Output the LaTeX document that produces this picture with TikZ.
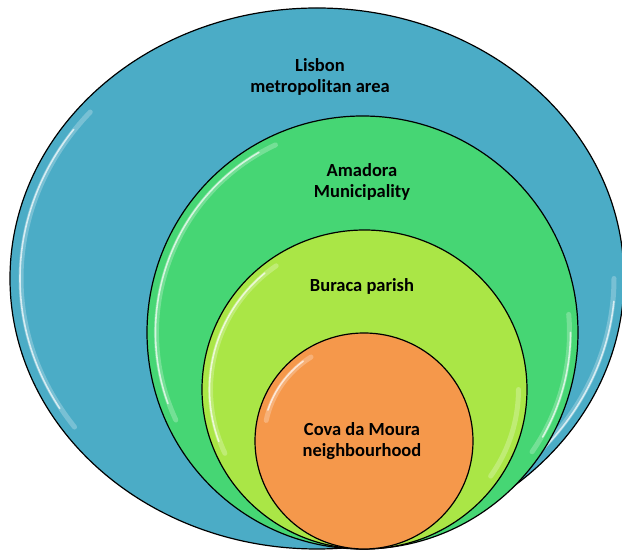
\documentclass[tikz,border=0pt]{standalone}
\usepackage{fontspec}
\setmainfont{Carlito}
\usetikzlibrary{shapes.geometric}
\definecolor{cblue}{RGB}{75,172,198}
\definecolor{cgreen}{RGB}{70,214,116}
\definecolor{clime}{RGB}{170,230,70}
\definecolor{corange}{RGB}{245,152,75}
\begin{document}
\begin{tikzpicture}[x=1pt,y=1pt,
  ring/.style={ellipse, draw=black, line width=1.2pt, inner sep=0pt},
  lbl/.style={font=\fontsize{18.5}{20.5}\selectfont\bfseries, align=center, text=black},
  glow/.style={white, line width=5pt, opacity=0.25, line cap=round},
  shine/.style={white, line width=1.6pt, opacity=0.7, line cap=round}]
\useasboundingbox (0,0) rectangle (622,551);
% rings
\node[ring, fill=cblue, minimum width=614pt, minimum height=541pt] (lisbon) at (317,272.5) {};
\draw[glow] (lisbon.center) ++(140:296 and 259) arc[start angle=140, end angle=215, x radius=296, y radius=259];
\draw[shine] (lisbon.center) ++(145:297 and 260) arc[start angle=145, end angle=210, x radius=297, y radius=260];
\draw[glow] (lisbon.center) ++(0:297 and 261) arc[start angle=0, end angle=-58, x radius=297, y radius=261];
\draw[shine] (lisbon.center) ++(-5:298 and 262) arc[start angle=-5, end angle=-55, x radius=298, y radius=262];

\node[ring, fill=cgreen, minimum width=431pt, minimum height=433pt] (amadora) at (362.5,218.5) {};
\draw[glow] (amadora.center) ++(115:206 and 207) arc[start angle=115, end angle=205, x radius=206, y radius=207];
\draw[shine] (amadora.center) ++(120:207 and 208) arc[start angle=120, end angle=200, x radius=207, y radius=208];
\draw[glow] (amadora.center) ++(5:207 and 208) arc[start angle=5, end angle=-35, x radius=207, y radius=208];
\draw[shine] (amadora.center) ++(0:208 and 209) arc[start angle=0, end angle=-30, x radius=208, y radius=209];

\node[ring, fill=clime, minimum width=325pt, minimum height=319pt] (buraca) at (364.5,161.5) {};
\draw[glow] (buraca.center) ++(125:154 and 151) arc[start angle=125, end angle=205, x radius=154, y radius=151];
\draw[shine] (buraca.center) ++(130:155 and 152) arc[start angle=130, end angle=200, x radius=155, y radius=152];
\draw[glow] (buraca.center) ++(0:154 and 151) arc[start angle=0, end angle=-35, x radius=154, y radius=151];

\node[ring, fill=corange, minimum width=218pt, minimum height=216pt] (cova) at (364,110) {};
\draw[glow] (cova.center) ++(122:100 and 99) arc[start angle=122, end angle=168, x radius=100, y radius=99];
\draw[shine] (cova.center) ++(127:101 and 100) arc[start angle=127, end angle=162, x radius=101, y radius=100];

% labels
\node[lbl] (tlisbon) at (320,474) {Lisbon\\metropolitan area};
\node[lbl] (tamadora) at (362,369) {Amadora\\Municipality};
\node[lbl] (tburaca) at (362,265) {Buraca parish};
\node[lbl] (tcova) at (362,110) {Cova da Moura\\neighbourhood};
\end{tikzpicture}
\end{document}
